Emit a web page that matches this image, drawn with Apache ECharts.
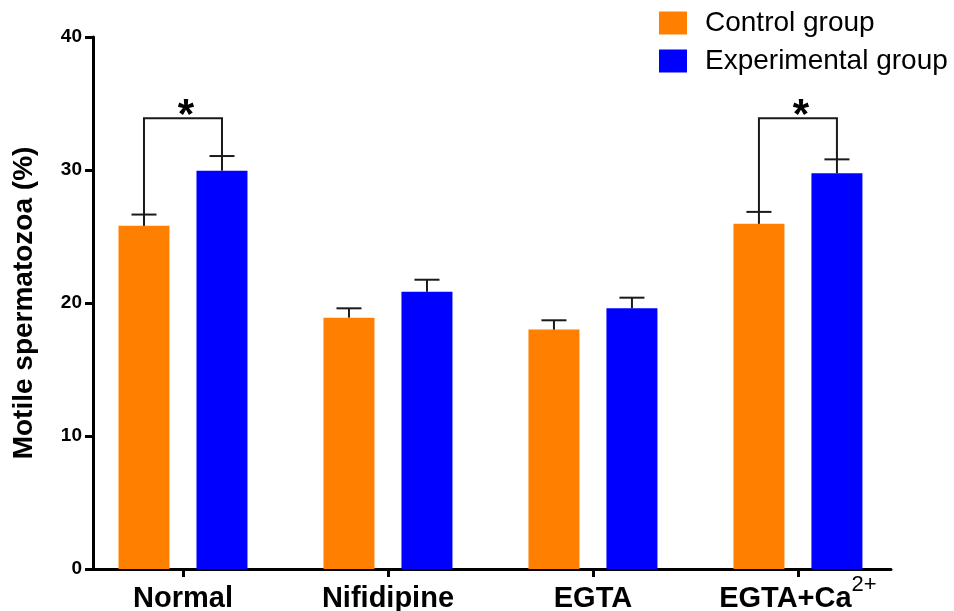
<!DOCTYPE html>
<html>
<head>
<meta charset="utf-8">
<script src="https://cdn.jsdelivr.net/npm/echarts@6/dist/echarts.min.js"></script>
<style>
  html, body { margin: 0; padding: 0; background: #fff; }
  #chart { width: 954px; height: 611px; }
</style>
</head>
<body>
<div id="chart"></div>
<script>
// Treatment groups along the x axis (rich-text markup for the Ca2+ superscript)
const categories = ['Normal', 'Nifidipine', 'EGTA', 'EGTA+Ca2+'];
const categoryLabels = ['{b|Normal}', '{b|Nifidipine}', '{b|EGTA}', '{b|EGTA+Ca}{sup|2+}'];

// Motile spermatozoa (%), mean and upper error per group
const controlMean = [25.8, 18.9, 18.0, 25.95];
const controlErr = [0.85, 0.7, 0.7, 0.9];
const experimentalMean = [29.95, 20.85, 19.6, 29.75];
const experimentalErr = [1.1, 0.9, 0.8, 1.05];

// Significance brackets: category index, bracket height (%), mark
const sigCategories = [0, 3];
const sigLevels = [33.9, 33.9];
const sigMarks = ['*', '*'];

// Y axis ticks
const yTicks = [0, 10, 20, 30, 40];

const FONT = '"Liberation Sans", Arial, Helvetica, sans-serif';
const BAR_W = 51;
const BAR_GAP = 27;
const HALF_STEP = (BAR_W + BAR_GAP) / 2;
const CAP_W = 25;
const INK = '#1a1a1a';

function errorBars(side) {
  return function (params, api) {
    const x = api.value(0);
    const mean = api.value(1);
    const err = api.value(2);
    const base = api.coord([x, mean]);
    const top = api.coord([x, mean + err]);
    const cx = base[0] + side * HALF_STEP;
    const style = { stroke: INK, lineWidth: 2 };
    return {
      type: 'group',
      children: [
        { type: 'line', shape: { x1: cx, y1: base[1], x2: cx, y2: top[1] }, style: style },
        { type: 'line', shape: { x1: cx - CAP_W / 2, y1: top[1], x2: cx + CAP_W / 2, y2: top[1] }, style: style }
      ]
    };
  };
}

function bracket(params, api) {
  const i = api.value(0);
  const level = api.value(1);
  const mark = sigMarks[params.dataIndex];
  const leftTop = api.coord([i, controlMean[i] + controlErr[i]]);
  const rightTop = api.coord([i, experimentalMean[i] + experimentalErr[i]]);
  const y = api.coord([i, level])[1];
  const lx = leftTop[0] - HALF_STEP;
  const rx = rightTop[0] + HALF_STEP;
  return {
    type: 'group',
    children: [
      {
        type: 'polyline',
        shape: { points: [[lx, leftTop[1]], [lx, y], [rx, y], [rx, rightTop[1]]] },
        style: { stroke: INK, lineWidth: 2, fill: null }
      },
      {
        type: 'text',
        style: {
          text: mark, x: (lx + rx) / 2 + 3, y: y - 2,
          align: 'center', verticalAlign: 'middle',
          fontFamily: FONT, fontWeight: 'bold', fontSize: 42, fill: '#000'
        }
      }
    ]
  };
}

const chart = echarts.init(document.getElementById('chart'), null, { renderer: 'canvas' });

chart.setOption({
  animation: false,
  backgroundColor: '#fff',
  textStyle: { fontFamily: FONT },
  grid: { left: 93, right: 63, top: 37, bottom: 42, containLabel: false, outerBoundsMode: 'none' },
  legend: {
    data: ['Control group', 'Experimental group'],
    orient: 'vertical',
    left: 654,
    top: 4,
    itemWidth: 28,
    itemHeight: 23,
    itemGap: 10,
    icon: 'rect',
    textStyle: { fontSize: 28, color: '#000', fontFamily: FONT, padding: [0, 0, 0, 13] }
  },
  xAxis: {
    type: 'value',
    min: -0.439,
    max: 3.454,
    splitLine: { show: false },
    axisLine: { show: true, onZero: false, lineStyle: { color: '#000', width: 3 } },
    axisTick: { show: true, length: 8, lineStyle: { color: '#000', width: 3 }, customValues: [0, 1, 2, 3] },
    axisLabel: {
      customValues: [0, 1, 2, 3],
      margin: 0,
      color: '#000',
      formatter: function (v) { return categoryLabels[Math.round(v)]; },
      rich: {
        b: { fontSize: 29, fontWeight: 'bold', fontFamily: FONT, color: '#000', lineHeight: 44, verticalAlign: 'bottom' },
        sup: { fontSize: 22, fontFamily: FONT, color: '#000', lineHeight: 22, padding: [0, 0, 17, 0], verticalAlign: 'bottom' }
      }
    }
  },
  yAxis: {
    type: 'value',
    min: yTicks[0],
    max: yTicks[yTicks.length - 1],
    interval: 10,
    name: 'Motile spermatozoa (%)',
    nameLocation: 'middle',
    nameGap: 55,
    nameTextStyle: { fontSize: 28, fontWeight: 'bold', color: '#000', fontFamily: FONT },
    splitLine: { show: false },
    axisLine: { show: true, onZero: false, lineStyle: { color: '#000', width: 3 } },
    axisTick: { show: true, length: 8, lineStyle: { color: '#000', width: 3 } },
    axisLabel: { fontSize: 19, fontWeight: 'bold', color: '#000', margin: 11, fontFamily: FONT }
  },
  series: [
    {
      name: 'Control group',
      type: 'bar',
      barWidth: BAR_W,
      barGap: (BAR_GAP / BAR_W * 100).toFixed(1) + '%',
      itemStyle: { color: '#FF8000' },
      data: controlMean.map(function (v, i) { return [i, v]; })
    },
    {
      name: 'Experimental group',
      type: 'bar',
      barWidth: BAR_W,
      barGap: (BAR_GAP / BAR_W * 100).toFixed(1) + '%',
      itemStyle: { color: '#0000FF' },
      data: experimentalMean.map(function (v, i) { return [i, v]; })
    },
    {
      type: 'custom',
      renderItem: errorBars(-1),
      encode: { x: 0, y: 1 },
      z: 5,
      data: controlMean.map(function (v, i) { return [i, v, controlErr[i]]; })
    },
    {
      type: 'custom',
      renderItem: errorBars(1),
      encode: { x: 0, y: 1 },
      z: 5,
      data: experimentalMean.map(function (v, i) { return [i, v, experimentalErr[i]]; })
    },
    {
      type: 'custom',
      renderItem: bracket,
      encode: { x: 0, y: 1 },
      z: 6,
      data: sigCategories.map(function (c, k) { return [c, sigLevels[k]]; })
    }
  ]
});
</script>
</body>
</html>
